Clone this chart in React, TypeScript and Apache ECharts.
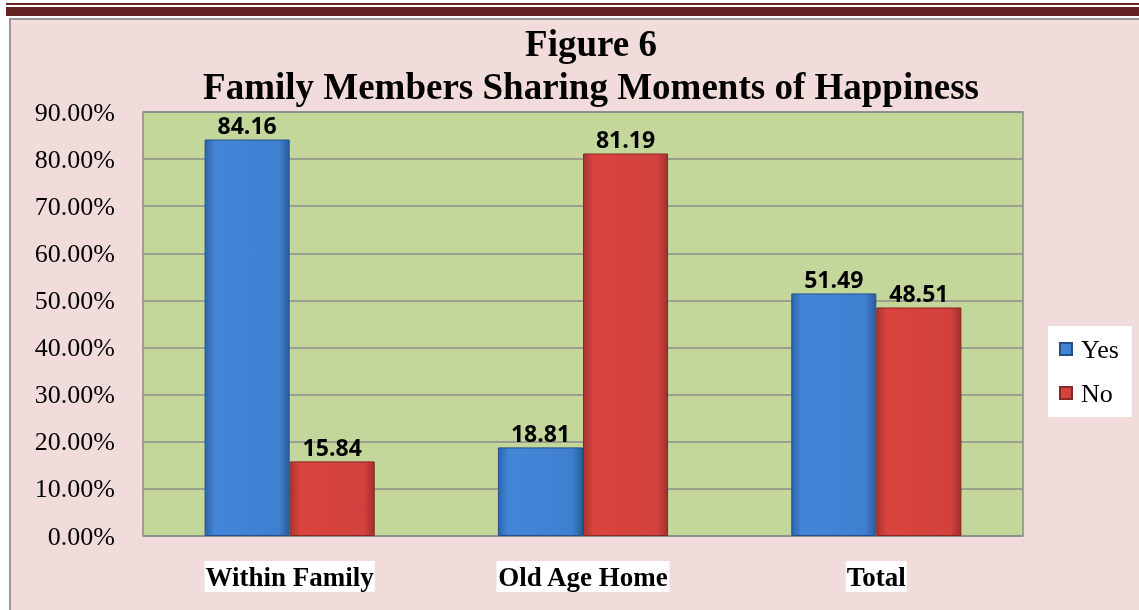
import React, { useEffect, useRef } from "react";
import * as echarts from "echarts";

const categories = ["Within Family", "Old Age Home", "Total"];
const yesValues = [84.16, 18.81, 51.49];
const noValues = [15.84, 81.19, 48.51];
const seriesNames = ["Yes", "No"];
const titleLines = ["Figure 6", "Family Members Sharing Moments of Happiness"];

export default function App() {
  const ref = useRef<HTMLDivElement>(null);
  useEffect(() => {
    if (!ref.current) return;
    const chart = echarts.init(ref.current, null, { renderer: "svg" });
    const blueGrad = new echarts.graphic.LinearGradient(0, 0, 1, 0, [
      { offset: 0, color: "#2f64ab" },
      { offset: 0.12, color: "#4386d8" },
      { offset: 0.88, color: "#3f7fd0" },
      { offset: 1, color: "#2c5b9c" },
    ]);
    const redGrad = new echarts.graphic.LinearGradient(0, 0, 1, 0, [
      { offset: 0, color: "#a93431" },
      { offset: 0.12, color: "#d9443f" },
      { offset: 0.88, color: "#d2413d" },
      { offset: 1, color: "#a2302d" },
    ]);
    const labelStyle = {
      show: true,
      position: "top" as const,
      distance: 3,
      color: "#000",
      fontFamily: "'Open Sans', sans-serif",
      fontWeight: "bold" as const,
      fontSize: 23,
      formatter: (p: any) => p.value.toFixed(2),
    };
    const serif = "'Liberation Serif', 'Times New Roman', serif";
    chart.setOption({
      animation: false,
      graphic: [
        { type: "rect", shape: { x: 6, y: 3, width: 1133, height: 2 }, style: { fill: "#632423" }, z: -10 },
        { type: "rect", shape: { x: 6, y: 7, width: 1133, height: 9 }, style: { fill: "#632423" }, z: -10 },
        {
          type: "rect",
          shape: { x: 10, y: 19, width: 1140, height: 600 },
          style: { fill: "#f2dcdb", stroke: "#999", lineWidth: 2 },
          z: -10,
        },
      ],
      title: {
        text: titleLines.join("\n"),
        left: 586,
        textAlign: "center",
        top: 17,
        textStyle: {
          fontFamily: serif,
          fontWeight: "bold",
          fontSize: 37,
          lineHeight: 43,
          color: "#000",
        },
      },
      legend: {
        data: seriesNames,
        orient: "vertical",
        left: 1048,
        top: 326,
        backgroundColor: "#fff",
        padding: [10, 13, 11, 11],
        itemGap: 18,
        itemWidth: 12,
        itemHeight: 12,
        icon: "rect",
        textStyle: {
          fontFamily: serif,
          fontSize: 26,
          color: "#000",
          padding: [0, 0, 0, 4],
        },
      },
      grid: {
        left: 143,
        top: 112,
        width: 880,
        height: 424,
        show: true,
        backgroundColor: "#c4d79b",
        borderColor: "#8c8c8c",
        borderWidth: 1.5,
      },
      xAxis: {
        type: "category",
        data: categories,
        axisLine: { show: false },
        axisTick: { show: false },
        axisLabel: {
          margin: 25,
          fontFamily: serif,
          fontWeight: "bold",
          fontSize: 27,
          lineHeight: 27,
          color: "#000",
          backgroundColor: "#fff",
          padding: [2, 1, 2, 1],
        },
      },
      yAxis: {
        type: "value",
        min: 0,
        max: 90,
        interval: 10,
        axisLine: { show: false },
        axisTick: { show: false },
        splitLine: { lineStyle: { color: "#8c8c8c", width: 1.5 } },
        axisLabel: {
          margin: 28,
          fontFamily: serif,
          fontSize: 26,
          color: "#000",
          formatter: (v: number) => v.toFixed(2) + "%",
        },
      },
      series: [
        {
          name: seriesNames[0],
          type: "bar",
          data: yesValues,
          barGap: "0%",
          barCategoryGap: "42%",
          itemStyle: { color: blueGrad, borderColor: "#24508a", borderWidth: 1 },
          label: labelStyle,
        },
        {
          name: seriesNames[1],
          type: "bar",
          data: noValues,
          itemStyle: { color: redGrad, borderColor: "#8a2624", borderWidth: 1 },
          label: labelStyle,
        },
      ],
    });
    return () => chart.dispose();
  }, []);
  return (
    <div
      ref={ref}
      style={{ position: "fixed", left: 0, top: 0, width: 1139, height: 610 }}
    />
  );
}
